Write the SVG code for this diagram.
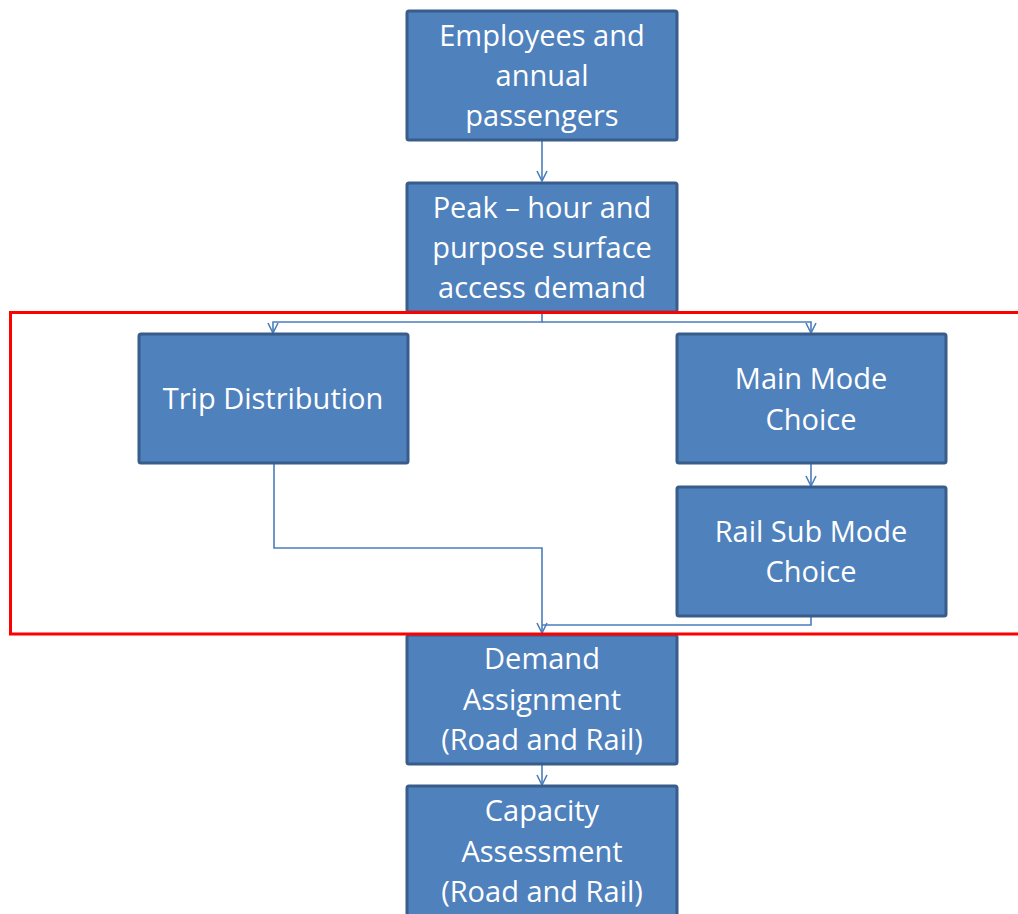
<svg xmlns="http://www.w3.org/2000/svg" width="1018" height="914" viewBox="0 0 1018 914">
  <style>
    .box { fill: #4F81BD; stroke: #385D8A; stroke-width: 3; }
    .lbl { font-family: "Open Sans", "DejaVu Sans", sans-serif; font-size: 29px; fill: #FFFFFF; text-anchor: middle; }
    .conn { fill: none; stroke: #4A7EBB; stroke-width: 1.6; }
  </style>
  <defs>
    <marker id="arr" markerWidth="12" markerHeight="12" refX="11" refY="6" orient="auto" markerUnits="userSpaceOnUse" viewBox="0 0 12 12">
      <path d="M1,1 L11,6 L1,11" fill="none" stroke="#4A7EBB" stroke-width="1.6"/>
    </marker>
  </defs>
  <rect width="1018" height="914" fill="#FFFFFF"/>

  <g id="connectors">
    <path class="conn" d="M542,141 V181" marker-end="url(#arr)"/>
    <path class="conn" d="M542,313 V322 H273 V333" marker-end="url(#arr)"/>
    <path class="conn" d="M542,322 H811 V333" marker-end="url(#arr)"/>
    <path class="conn" d="M811,464 V486" marker-end="url(#arr)"/>
    <path class="conn" d="M274,464 V548 H542 V633" marker-end="url(#arr)"/>
    <path class="conn" d="M811,617 V625 H542"/>
    <path class="conn" d="M542,765 V785" marker-end="url(#arr)"/>
  </g>

  <g id="node-employees">
    <rect class="box" x="407" y="11" width="270" height="129" rx="2"/>
    <text class="lbl" x="542" y="46">Employees and</text>
    <text class="lbl" x="542" y="86">annual</text>
    <text class="lbl" x="542" y="126">passengers</text>
  </g>

  <g id="node-peak">
    <rect class="box" x="407" y="183" width="270" height="129" rx="2"/>
    <text class="lbl" x="542" y="218">Peak – hour and</text>
    <text class="lbl" x="542" y="258">purpose surface</text>
    <text class="lbl" x="542" y="298">access demand</text>
  </g>

  <g id="node-trip">
    <rect class="box" x="139" y="334" width="269" height="129" rx="2"/>
    <text class="lbl" x="273" y="409">Trip Distribution</text>
  </g>

  <g id="node-main-mode">
    <rect class="box" x="677" y="334" width="269" height="129" rx="2"/>
    <text class="lbl" x="811" y="389">Main Mode</text>
    <text class="lbl" x="811" y="430">Choice</text>
  </g>

  <g id="node-rail-sub">
    <rect class="box" x="677" y="487" width="269" height="129" rx="2"/>
    <text class="lbl" x="811" y="542">Rail Sub Mode</text>
    <text class="lbl" x="811" y="582">Choice</text>
  </g>

  <g id="node-demand">
    <rect class="box" x="407" y="635" width="270" height="129" rx="2"/>
    <text class="lbl" x="542" y="669">Demand</text>
    <text class="lbl" x="542" y="710">Assignment</text>
    <text class="lbl" x="542" y="750">(Road and Rail)</text>
  </g>

  <g id="node-capacity">
    <rect class="box" x="407" y="786" width="270" height="135" rx="2"/>
    <text class="lbl" x="542" y="821">Capacity</text>
    <text class="lbl" x="542" y="862">Assessment</text>
    <text class="lbl" x="542" y="902">(Road and Rail)</text>
  </g>

  <g id="region">
    <rect x="10.5" y="312.5" width="1020" height="321.5" fill="none" stroke="#FF0000" stroke-width="3"/>
  </g>
</svg>
